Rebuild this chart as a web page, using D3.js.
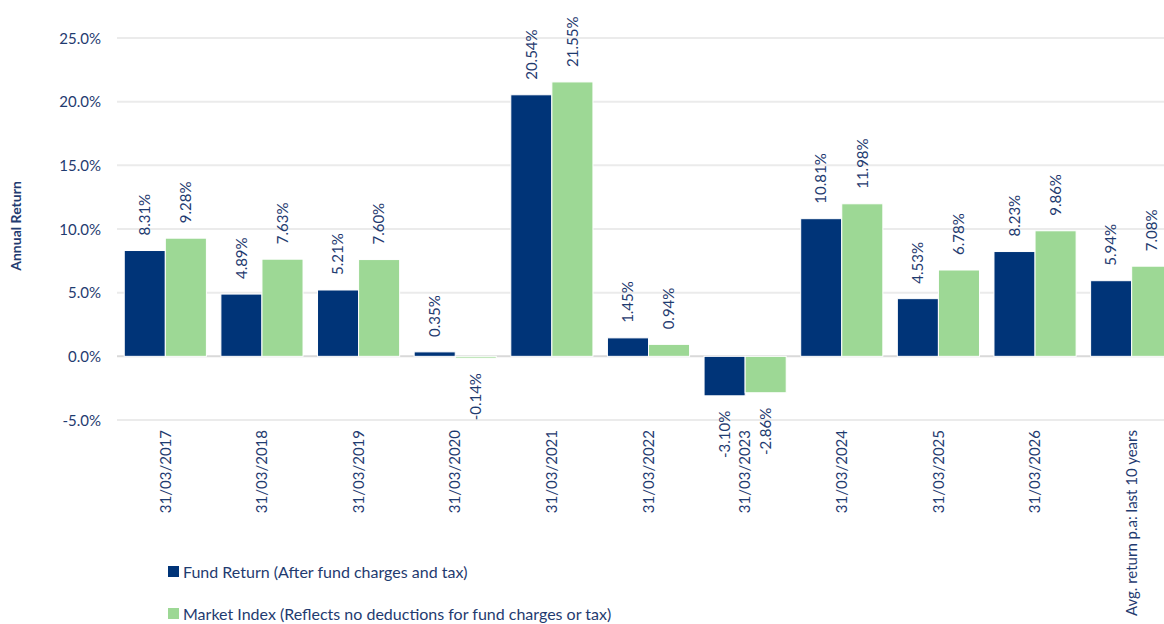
<!DOCTYPE html>
<html>
<head>
<meta charset="utf-8">
<script src="https://cdn.jsdelivr.net/npm/d3@7"></script>
<style>
  body { margin: 0; background: #fff; overflow: hidden; }
  svg text { font-family: Lato, "Open Sans", sans-serif; fill: #1f3b70; }
</style>
</head>
<body>
<div id="chart"></div>
<script>
// categories and series values (percent)
const categories = ["31/03/2017", "31/03/2018", "31/03/2019", "31/03/2020", "31/03/2021",
  "31/03/2022", "31/03/2023", "31/03/2024", "31/03/2025", "31/03/2026", "Avg. return p.a: last 10 years"];
const fundReturn = [8.31, 4.89, 5.21, 0.35, 20.54, 1.45, -3.10, 10.81, 4.53, 8.23, 5.94];
const marketIndex = [9.28, 7.63, 7.60, -0.14, 21.55, 0.94, -2.86, 11.98, 6.78, 9.86, 7.08];
const seriesNames = ["Fund Return (After fund charges and tax)", "Market Index (Reflects no deductions for fund charges or tax)"];
const yTicks = [-5, 0, 5, 10, 15, 20, 25];

const colors = ["#003478", "#9dd895"];
const width = 1164, height = 624;

const svg = d3.select("#chart").append("svg")
    .attr("width", width)
    .attr("height", height);

//Scales (last group runs off the right edge, as in the source)
const x = d3.scaleBand()
    .domain(categories)
    .range([117, 1180])
    .paddingInner(0.15)
    .paddingOuter(0.075);
const xs = d3.scaleBand()
    .domain([0, 1])
    .range([0, x.bandwidth()]);
const y = d3.scaleLinear()
    .domain([-5, 25])
    .range([420, 38]);

//Gridlines
svg.append("g")
  .selectAll("line")
  .data(yTicks)
  .enter().append("line")
    .attr("x1", 117).attr("x2", 1164)
    .attr("y1", d => y(d)).attr("y2", d => y(d))
    .attr("stroke", d => d === 0 ? "#d9d9d9" : "#ebebeb")
    .attr("stroke-width", 2);

//Y axis labels
const yAxis = svg.append("g")
    .attr("transform", "translate(101,0)")
    .call(d3.axisLeft(y).tickValues(yTicks).tickFormat(d => d.toFixed(1) + "%").tickSize(0).tickPadding(0));
yAxis.select(".domain").remove();
yAxis.selectAll("text")
    .style("font-size", "15px")
    .attr("dy", "0.35em");

svg.append("text")
    .attr("transform", `translate(16,226) rotate(-90)`)
    .attr("text-anchor", "middle")
    .attr("dy", "0.35em")
    .style("font-size", "14px")
    .style("font-weight", "bold")
    .text("Annual Return");

//Bars
const rows = categories.map((c, i) => ({ cat: c, vals: [fundReturn[i], marketIndex[i]] }));
const groups = svg.append("g")
  .selectAll("g")
  .data(rows)
  .enter().append("g")
    .attr("transform", d => `translate(${x(d.cat)},0)`);

groups.selectAll("rect")
  .data(d => d.vals.map((v, k) => ({ v, k })))
  .enter().append("rect")
    .attr("x", d => xs(d.k))
    .attr("y", d => y(Math.max(0, d.v)))
    .attr("width", xs.bandwidth())
    .attr("height", d => Math.abs(y(d.v) - y(0)))
    .attr("fill", d => colors[d.k])
    .attr("stroke", "#fff")
    .attr("stroke-width", 1);

//Value labels
groups.selectAll("text")
  .data(d => d.vals.map((v, k) => ({ v, k })))
  .enter().append("text")
    .attr("transform", d => {
        const cx = xs(d.k) + xs.bandwidth() / 2;
        const cy = d.v >= 0 ? y(d.v) - 15 : y(d.v) + 15;
        return `translate(${cx},${cy}) rotate(-90)`;
    })
    .attr("text-anchor", d => d.v >= 0 ? "start" : "end")
    .attr("dy", "0.35em")
    .style("font-size", "15px")
    .text(d => d.v.toFixed(2) + "%");

//Category labels
svg.append("g")
  .selectAll("text")
  .data(categories)
  .enter().append("text")
    .attr("transform", d => `translate(${x(d) + x.bandwidth() / 2},430) rotate(-90)`)
    .attr("text-anchor", "end")
    .attr("dy", "0.35em")
    .style("font-size", "15px")
    .text(d => d);

//Legend
const legend = svg.append("g")
  .selectAll("g")
  .data(seriesNames)
  .enter().append("g")
    .attr("transform", (d, i) => `translate(168,${572 + i * 42})`);
legend.append("rect")
    .attr("x", 0).attr("y", -6)
    .attr("width", 11).attr("height", 11)
    .attr("fill", (d, i) => colors[i]);
legend.append("text")
    .attr("x", 15)
    .attr("dy", "0.35em")
    .style("font-size", "16px")
    .text(d => d);
</script>
</body>
</html>
